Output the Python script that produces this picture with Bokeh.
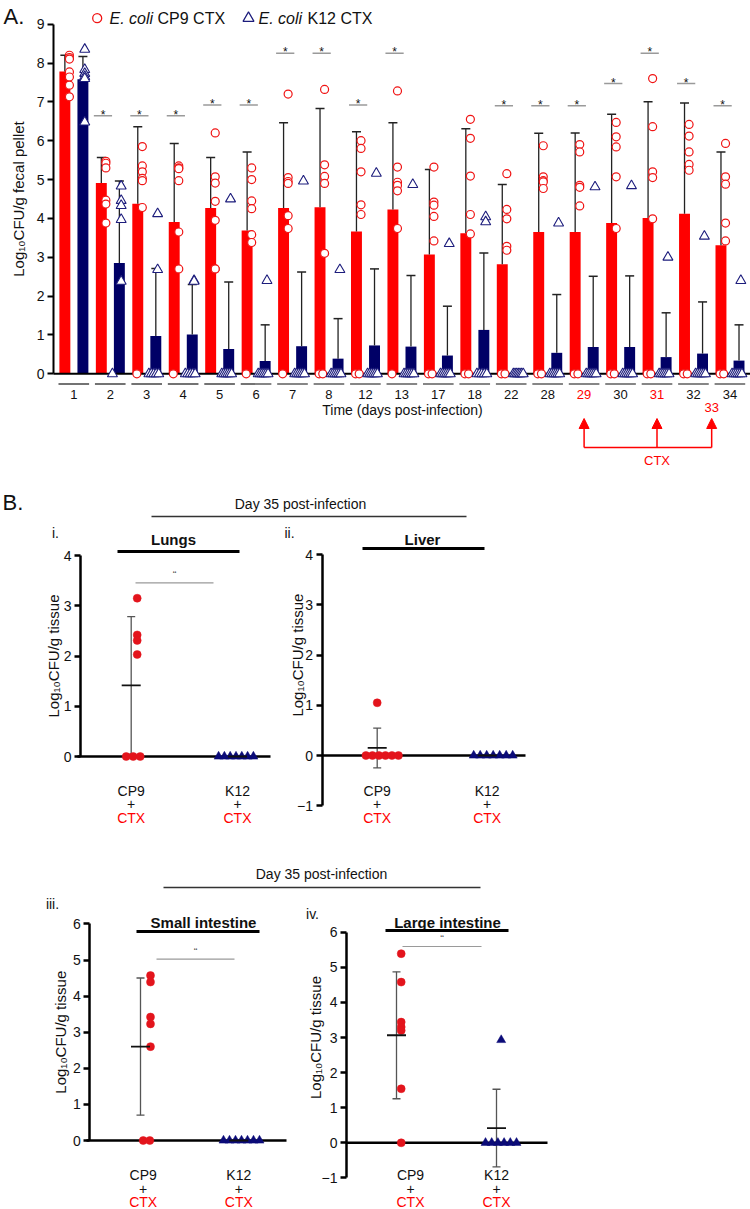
import numpy as np
from bokeh.plotting import figure
from bokeh.models import Range1d, LinearAxis, FixedTicker, Arrow, NormalHead, ColumnDataSource
from bokeh.layouts import column, row
from bokeh.core.properties import value
from bokeh.embed import file_html
from bokeh.resources import INLINE

FONT = "Liberation Sans"
nan = float("nan")

# ---------------- data: panel A (feces, log10 CFU/g) ----------------
days = ["1", "2", "3", "4", "5", "6", "7", "8", "12", "13", "17", "18", "22", "28", "29", "30", "31", "32", "34"]
ctx_days = ["29", "31", "33"]
cp9_mean = [7.78, 4.91, 4.38, 3.91, 4.27, 3.69, 4.27, 4.29, 3.66, 4.23, 3.07, 3.62, 2.82, 3.65, 3.65, 3.88, 4.01, 4.12, 3.31]
cp9_sd = [0.42, 0.66, 1.98, 2.02, 1.30, 2.02, 2.19, 2.54, 2.57, 2.23, 2.19, 2.69, 2.05, 2.54, 2.55, 2.80, 2.99, 2.85, 2.40]
k12_mean = [7.58, 2.85, 0.97, 1.01, 0.64, 0.33, 0.71, 0.39, 0.73, 0.70, 0.47, 1.13, 0.0, 0.54, 0.69, 0.69, 0.43, 0.52, 0.34]
k12_sd = [0.59, 2.11, 1.74, 1.29, 1.72, 0.93, 1.91, 1.03, 1.97, 1.83, 1.27, 1.98, 0.0, 1.50, 1.82, 1.83, 1.14, 1.33, 0.92]
sig_level = [nan, 6.64, 6.64, 6.64, 6.92, 6.92, 8.25, 8.25, 6.92, 8.25, nan, nan, 6.90, 6.90, 6.90, 7.47, 8.25, 7.47, 6.90]
cp9_points = [
    [8.20, 8.14, 8.10, 7.77, 7.64, 7.43, 7.13],
    [5.47, 5.42, 5.30, 4.47, 4.37, 3.88],
    [5.85, 5.35, 5.20, 5.03, 4.97, 4.28, 0],
    [5.35, 5.30, 5.28, 4.97, 3.65, 2.70, 0],
    [6.20, 5.07, 4.91, 4.44, 3.95, 2.70, 2.70],
    [5.30, 5.00, 4.45, 4.25, 3.58, 3.38, 0],
    [7.20, 5.05, 4.95, 4.90, 4.07, 3.74, 0],
    [7.32, 5.38, 5.08, 4.90, 3.10, 0, 0],
    [6.00, 5.80, 5.20, 4.35, 4.10, 0, 0],
    [7.28, 5.32, 4.93, 4.85, 4.71, 3.74, 0],
    [5.32, 4.42, 4.34, 4.05, 3.42, 0, 0],
    [6.55, 6.06, 5.09, 4.10, 3.60, 0, 0],
    [5.15, 4.23, 3.99, 3.28, 3.18, 0, 0],
    [5.87, 5.07, 4.97, 4.94, 4.77, 0, 0],
    [5.90, 5.71, 4.85, 4.80, 4.32, 0, 0],
    [6.47, 6.10, 5.84, 5.07, 3.74, 0, 0],
    [7.60, 6.36, 5.20, 5.05, 3.99, 0, 0],
    [6.42, 6.12, 5.71, 5.39, 5.24, 0, 0],
    [5.93, 5.07, 4.88, 3.88, 3.42, 0, 0],
]
k12_points = [
    [8.35, 7.83, 7.73, 7.65, 7.60, 6.48],
    [4.83, 4.46, 4.33, 3.97, 2.38, 0],
    [4.12, 2.68, 0, 0, 0, 0, 0],
    [2.40, 2.38, 0, 0, 0, 0, 0],
    [4.50, 0, 0, 0, 0, 0, 0],
    [2.40, 0, 0, 0, 0, 0, 0],
    [4.96, 0, 0, 0, 0, 0, 0],
    [2.68, 0, 0, 0, 0, 0, 0],
    [5.16, 0, 0, 0, 0, 0, 0],
    [4.87, 0, 0, 0, 0, 0, 0],
    [3.35, 0, 0, 0, 0, 0, 0],
    [4.04, 3.91, 0, 0, 0, 0, 0],
    [0, 0, 0, 0, 0, 0, 0],
    [3.88, 0, 0, 0, 0, 0, 0],
    [4.81, 0, 0, 0, 0, 0, 0],
    [4.84, 0, 0, 0, 0, 0, 0],
    [3.00, 0, 0, 0, 0, 0, 0],
    [3.54, 0, 0, 0, 0, 0, 0],
    [2.40, 0, 0, 0, 0, 0, 0],
]

# ---------------- data: panel B (day 35 tissues, log10 CFU/g) ----------------
groups_B = ["CP9", "K12"]
drug_B = "CTX"
lungs_cp9 = [3.15, 2.42, 2.31, 2.03, 0, 0, 0]
lungs_k12 = [0, 0, 0, 0, 0, 0, 0]
liver_cp9 = [1.05, 0, 0, 0, 0, 0, 0]
liver_k12 = [0, 0, 0, 0, 0, 0, 0]
si_cp9 = [4.57, 4.39, 3.42, 3.23, 2.60, 0, 0]
si_k12 = [0, 0, 0, 0, 0, 0, 0]
li_cp9 = [5.39, 4.58, 3.44, 3.30, 3.20, 1.54, 0]
li_k12 = [2.93, 0, 0, 0, 0, 0, 0]

# ---------------- styles ----------------
BAR_RED = "#ff0000"
BAR_NAVY = "#000066"
PT_RED = "#f01414"
PT_NAVY = "#1c1c7c"
DOT_RED = "#e3141c"
TRI_NAVY = "#0b0b78"
TXT = "#111111"
F = value(FONT)


def base_fig(width, height, xr, yr):
    p = figure(width=width, height=height, x_range=Range1d(*xr), y_range=Range1d(*yr),
               output_backend="svg", toolbar_location=None,
               x_axis_location=None, y_axis_location=None,
               min_border_left=0, min_border_right=0, min_border_top=0, min_border_bottom=0,
               outline_line_color=None, background_fill_color="white", border_fill_color="white")
    p.grid.grid_line_color = None
    return p


def add_yaxis(p, loc, bounds, tick_size, lw):
    ax = LinearAxis(fixed_location=loc, bounds=bounds,
                    ticker=FixedTicker(ticks=list(range(bounds[0], bounds[1] + 1))))
    ax.axis_line_width = lw
    ax.axis_line_color = "black"
    ax.major_tick_in = 0
    ax.major_tick_out = 6
    ax.major_tick_line_width = lw
    ax.major_tick_line_color = "black"
    ax.minor_tick_line_color = None
    ax.major_label_text_font = FONT
    ax.major_label_text_font_size = tick_size
    ax.major_label_text_color = TXT
    ax.major_label_standoff = 3
    p.add_layout(ax, "left")
    return ax


def txt(p, x, y, s, size, color=TXT, align="center", style="normal", angle=0.0, baseline="middle"):
    p.text(x=x, y=y, text=s, text_align=align, text_baseline=baseline, text_font=F,
           text_font_size=size, text_color=color, text_font_style=style, angle=angle)


# ================= Panel A =================
def A_x(px):
    return (px - 73.3) / 36.45


def A_y(py):
    return (373.3 - py) / 38.85


pA = base_fig(750, 472, (A_x(0), A_x(750)), (A_y(472), A_y(0)))
add_yaxis(pA, A_x(53), (0, 9), "14px", 2)
txt(pA, [A_x(18)], [4.5], ["Log\u2081\u2080CFU/g fecal pellet"], "15px", angle=np.pi / 2)

idx = np.arange(len(days))
RED_OFF, BLUE_OFF, BW = -0.245, 0.25, 0.30
cm, cs = np.array(cp9_mean), np.array(cp9_sd)
km, ks = np.array(k12_mean), np.array(k12_sd)

pA.vbar(x=idx + RED_OFF, top=cm, width=BW, bottom=0, fill_color=BAR_RED, line_color=None)
pA.vbar(x=idx + BLUE_OFF, top=km, width=BW, bottom=0, fill_color=BAR_NAVY, line_color=None)

for xs, m, s in ((idx + RED_OFF, cm, cs), (idx + BLUE_OFF, km, ks)):
    keep = s > 0
    pA.segment(x0=xs[keep], y0=m[keep], x1=xs[keep], y1=(m + s)[keep], line_color="#222222", line_width=1.3)
    pA.scatter(x=xs[keep], y=(m + s)[keep], marker="dash", size=9, line_color="#222222", line_width=1.5)

# baseline (x axis line)
pA.segment(x0=[A_x(53)], y0=[0], x1=[A_x(750)], y1=[0], line_color="black", line_width=2)

# significance bars
sl = np.array(sig_level)
has = ~np.isnan(sl)
sx = idx[has] - 0.2
pA.segment(x0=sx - 0.25, y0=sl[has], x1=sx + 0.25, y1=sl[has], line_color="#9a9a9a", line_width=1.5)
pA.text(x=sx, y=sl[has], text=["*"] * int(has.sum()), text_align="center", text_baseline="alphabetic",
        y_offset=-1, text_font=F, text_font_size="12px", text_color=TXT)

# individual points
rx, ry, bx, by = [], [], [], []
for i, (cv, kv) in enumerate(zip(cp9_points, k12_points)):
    k = 0
    for v in cv:
        if v == 0:
            rx.append(i - 0.27 + 0.10 * k)
            k += 1
        else:
            rx.append(i - 0.12)
        ry.append(v)
    nz = sum(1 for v in kv if v == 0)
    k = 0
    for v in kv:
        if v == 0:
            bx.append(i + 0.06 + (0.27 * k / (nz - 1) if nz > 1 else 0))
            k += 1
        else:
            bx.append(i + 0.30)
        by.append(v)
pA.scatter(x=rx, y=ry, marker="circle", size=8, fill_color="white", line_color=PT_RED, line_width=1.2)
pA.scatter(x=bx, y=by, marker="triangle", size=10, fill_color="white", line_color=PT_NAVY, line_width=1.1)

# day labels and group underlines
lab_colors = [BAR_RED if d in ctx_days else TXT for d in days]
pA.segment(x0=idx - 0.42, y0=A_y(383.5), x1=idx + 0.42, y1=A_y(383.5), line_color="#444444", line_width=1.3)
pA.text(x=idx, y=[A_y(394)] * len(days), text=days, text_color=lab_colors, text_align="center",
        text_baseline="middle", text_font=F, text_font_size="13px")
txt(pA, [A_x(402)], [A_y(409)], ["Time (days post-infection)"], "14px")

# CTX dosing arrows
day_num = np.array([float(d) for d in days])
ctx_x = np.interp([float(d) for d in ctx_days], day_num, idx)
arr_src = ColumnDataSource(dict(x=ctx_x, y0=[A_y(447)] * len(ctx_x), y1=[A_y(418)] * len(ctx_x)))
pA.add_layout(Arrow(source=arr_src, x_start="x", y_start="y0", x_end="x", y_end="y1",
                    line_color=BAR_RED, line_width=1.5,
                    end=NormalHead(size=10, fill_color=BAR_RED, line_color=BAR_RED)))
pA.segment(x0=[ctx_x[0]], y0=[A_y(447)], x1=[ctx_x[-1]], y1=[A_y(447)], line_color=BAR_RED, line_width=1.5)
extra = [d for d in ctx_days if d not in days]
extra_x = [ctx_x[ctx_days.index(d)] for d in extra]
txt(pA, extra_x, [A_y(407)] * len(extra), extra, "13px", color=BAR_RED)
txt(pA, [ctx_x[1]], [A_y(460)], [drug_B], "13px", color=BAR_RED)

# legend
LY = A_y(17.7)
pA.scatter(x=[A_x(96.7)], y=[LY], marker="circle", size=9, fill_color="white", line_color=PT_RED, line_width=1.3)
pA.scatter(x=[A_x(248)], y=[LY], marker="triangle", size=11, fill_color="white", line_color=PT_NAVY, line_width=1.2)
txt(pA, [A_x(109), A_x(258)], [LY, LY], ["E. coli", "E. coli"], "16px", align="left", style="italic")
txt(pA, [A_x(157), A_x(307)], [LY, LY], ["CP9 CTX", "K12 CTX"], "16px", align="left")
txt(pA, [A_x(3)], [A_y(16)], ["A."], "22px", align="left")


# ================= headers =================
def header(top, height, items, line):
    h = base_fig(750, height, (0, 750), (top + height, top))
    for (s, x, y, size, align) in items:
        txt(h, [x], [y], [s], size, align=align)
    h.segment(x0=[line[0]], y0=[line[2]], x1=[line[1]], y1=[line[2]], line_color="#333333", line_width=1.5)
    return h


hdr1 = header(472, 48, [("B.", 2, 502, "22px", "left"), ("Day 35 post-infection", 300, 503, "14px", "center")],
              (151, 466, 516))
hdr2 = header(830, 65, [("Day 35 post-infection", 321, 873, "14px", "center")], (163, 480, 887))


# ================= Panel B =================
def tissue_panel(sp, cp9_vals, k12_vals):
    x1, ppx, y0, ppy = sp["x1"], sp["ppx"], sp["y0"], sp["ppy"]
    dx = lambda px: 1 + (px - x1) / ppx
    dy = lambda py: (y0 - py) / ppy
    left, top, w, h = sp["left"], sp["top"], sp["width"], sp["height"]
    p = base_fig(w, h, (dx(left), dx(left + w)), (dy(top + h), dy(top)))
    yb = sp["ybounds"]
    add_yaxis(p, dx(sp["axis"]), yb, "14px", 2.5)
    txt(p, [dx(sp["ylab_x"])], [(max(yb[0], 0) + yb[1]) / 2 if yb[0] == 0 else (yb[0] + yb[1]) / 2 + 0.5],
        ["Log\u2081\u2080CFU/g tissue"], "15px", angle=np.pi / 2)
    # baseline
    p.segment(x0=[dx(sp["base_start"])], y0=[0], x1=[dx(sp["base_end"])], y1=[0], line_color="black", line_width=2.5)

    for g, vals, st, marker, col, size in ((1, cp9_vals, sp["cp9"], "circle", DOT_RED, 8),
                                           (2, k12_vals, sp["k12"], "triangle", TRI_NAVY, 9)):
        vals = np.array(vals, dtype=float)
        m = vals.mean()
        s = vals.std(ddof=1)
        ex = g + st["err"] / ppx
        if s > 0:
            p.segment(x0=[ex], y0=[m - s], x1=[ex], y1=[m + s], line_color="#555555", line_width=1.3)
            p.scatter(x=[ex, ex], y=[m - s, m + s], marker="dash", size=8, line_color="#555555", line_width=1.3)
        n0 = int((vals == 0).sum())
        k = 0
        xs = []
        for v in vals:
            if v == 0:
                xs.append(g + (st["zc"] + (k - (n0 - 1) / 2) * st["step"]) / ppx)
                k += 1
            else:
                xs.append(g + st["nz"] / ppx)
        p.scatter(x=xs, y=vals, marker=marker, size=size, fill_color=col, line_color=col, line_width=0.5)
        p.scatter(x=[ex], y=[m], marker="dash", size=19, line_color="#111111", line_width=1.8)

    # group labels
    ly = sp["lab_y"]
    gx = [1, 2]
    txt(p, gx, [dy(ly[0])] * 2, groups_B, "14px")
    txt(p, gx, [dy(ly[1])] * 2, ["+", "+"], "14px")
    txt(p, gx, [dy(ly[2])] * 2, [drug_B, drug_B], "14px", color=BAR_RED)
    # title + underline
    t, tx, ty = sp["title"]
    txt(p, [dx(tx)], [dy(ty)], [t], "15px", style="bold")
    u0, u1, uy = sp["uline"]
    p.segment(x0=[dx(u0)], y0=[dy(uy)], x1=[dx(u1)], y1=[dy(uy)], line_color="black", line_width=3)
    # significance
    if sp["sig"] is not None:
        s0, s1, sy, my = sp["sig"]
        p.segment(x0=[dx(s0)], y0=[dy(sy)], x1=[dx(s1)], y1=[dy(sy)], line_color="#9a9a9a", line_width=1.2)
        txt(p, [dx((s0 + s1) / 2)], [dy(my)], ["\u201c"], "11px", color="#555555")
    r, rx_, ry_ = sp["roman"]
    txt(p, [dx(rx_)], [dy(ry_)], [r], "14px")
    return p


spec_lungs = dict(left=0, top=520, width=281, height=310, axis=80, x1=130.7, ppx=106.3, y0=756.0, ppy=50.25,
                  ybounds=(0, 4), base_start=77, base_end=270, ylab_x=53, roman=("i.", 55, 532),
                  title=("Lungs", 173, 539), uline=(117, 239, 551), sig=(135, 213, 582.3, 574),
                  lab_y=(790, 803, 817),
                  cp9=dict(err=0, nz=6, zc=2, step=7), k12=dict(err=0, nz=0, zc=-1.5, step=5.8))
spec_liver = dict(left=281, top=520, width=469, height=310, axis=321.5, x1=376.7, ppx=110.0, y0=755.0, ppy=50.2,
                  ybounds=(-1, 4), base_start=321.5, base_end=525, ylab_x=297, roman=("ii.", 289, 532),
                  title=("Liver", 422, 539), uline=(362, 484, 548), sig=None, lab_y=(790, 803, 817),
                  cp9=dict(err=0, nz=0, zc=5, step=6.5), k12=dict(err=0, nz=0, zc=6, step=6.5))
spec_si = dict(left=0, top=895, width=305, height=314, axis=89.3, x1=142.7, ppx=95.6, y0=1140.0, ppy=36.1,
               ybounds=(0, 6), base_start=86, base_end=286, ylab_x=60, roman=("iii.", 52, 903),
               title=("Small intestine", 203, 922), uline=(136, 259, 931), sig=(156, 234, 958.7, 951),
               lab_y=(1174, 1188, 1201),
               cp9=dict(err=-2.7, nz=7.3, zc=3.3, step=6.6), k12=dict(err=0, nz=0, zc=2.7, step=6))
spec_li = dict(left=305, top=895, width=445, height=314, axis=346, x1=410.0, ppx=86.0, y0=1142.3, ppy=35.09,
               ybounds=(-1, 6), base_start=346, base_end=547, ylab_x=315, roman=("iv.", 312, 913),
               title=("Large intestine", 447, 922), uline=(385, 508, 930), sig=(402, 481, 946, 938),
               lab_y=(1174, 1188, 1201),
               cp9=dict(err=-14, nz=-9.3, zc=-9.3, step=6), k12=dict(err=0, nz=4.7, zc=4.5, step=6.2))

p_lungs = tissue_panel(spec_lungs, lungs_cp9, lungs_k12)
p_liver = tissue_panel(spec_liver, liver_cp9, liver_k12)
p_si = tissue_panel(spec_si, si_cp9, si_k12)
p_li = tissue_panel(spec_li, li_cp9, li_k12)

layout = column(pA, hdr1, row(p_lungs, p_liver, spacing=0), hdr2, row(p_si, p_li, spacing=0), spacing=0)

with open("out.html", "w") as f:
    f.write(file_html(layout, INLINE))
